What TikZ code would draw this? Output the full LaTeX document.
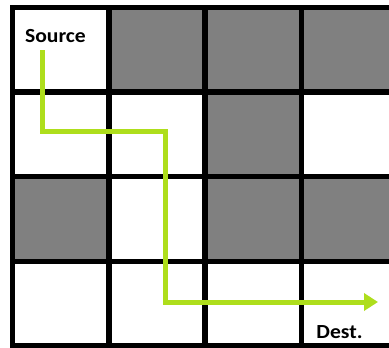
\documentclass[tikz,border=0pt]{standalone}
\usepackage{fontspec}
\setmainfont{Carlito}
\usetikzlibrary{arrows.meta, positioning}
\definecolor{WallG}{RGB}{128,128,128}
\definecolor{PathG}{RGB}{174,222,28}

\tikzset{
  wall/.style={fill=WallG},
  gridline/.style={line width=5.5pt, black},
  route/.style={line width=5pt, PathG, line cap=butt,
    -{Triangle[length=14pt, width=17pt]}},
  tag/.style={font=\bfseries\fontsize{20}{20}\selectfont, inner sep=0pt}
}

\begin{document}
\begin{tikzpicture}[x=1pt, y=-1pt]
\useasboundingbox (0,0) rectangle (389,348);
\clip (0,0) rectangle (389,348);
\fill[white] (0,0) rectangle (389,348);

% Blocked cells (column/row)
\foreach \c/\r in {2/1, 3/1, 4/1, 3/2, 1/3, 3/3, 4/3}
  \fill[wall] ({12.5+96.3*(\c-1)},{7.5+84.6*(\r-1)}) rectangle ++(96.3,84.6);

% Grid lines
\foreach \i in {0,...,4}
  \draw[gridline] ({12.5+96.3*\i},5) -- ({12.5+96.3*\i},352);
\foreach \j in {0,...,4}
  \draw[gridline] (10,{7.5+84.6*\j}) -- (400,{7.5+84.6*\j});

% Labels
\node[tag, xscale=1.08, transform shape] (src) at (55.5,36) {Source};
\node[tag, xscale=1.08, transform shape] (dst) at (339.5,332) {Dest.};

% Route
\coordinate (start) at (42.5,50);
\coordinate (bend) at (165,131);
\coordinate (goal) at (378,302);
\draw[route] (start) |- (bend) |- (goal);
\end{tikzpicture}
\end{document}
